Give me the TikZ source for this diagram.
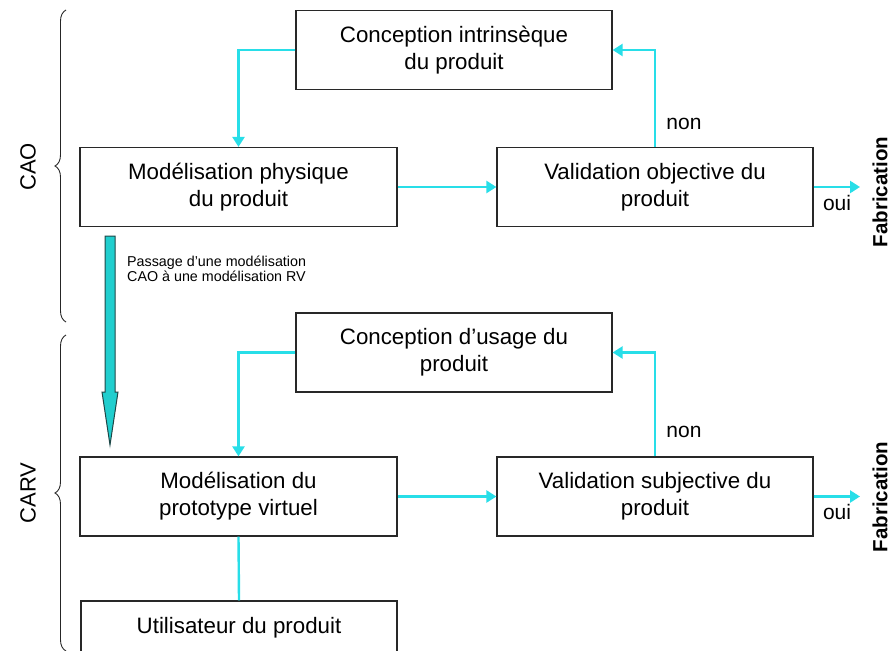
\documentclass[tikz,border=0pt]{standalone}
\usepackage{fontspec}
\setmainfont{Liberation Sans}
\usetikzlibrary{arrows.meta,decorations.pathreplacing}
\definecolor{cy}{RGB}{40,222,232}
\definecolor{tealfill}{RGB}{32,206,206}
\definecolor{tealline}{RGB}{30,70,70}
\definecolor{boxline}{RGB}{40,40,40}
\tikzset{
  box/.style={draw=boxline,line width=1.2pt,fill=white,inner sep=0pt,align=center,
    minimum width=316pt,minimum height=79pt,font=\fontsize{22.3}{27}\selectfont},
  flow/.style={draw=cy,line width=2.4pt,-{Triangle[length=10pt,width=12pt]}},
  plain/.style={draw=cy,line width=2.4pt},
  lbl/.style={font=\fontsize{21}{25}\selectfont,inner sep=0pt},
  fab/.style={font=\bfseries\fontsize{20.5}{24}\selectfont,rotate=90,inner sep=0pt},
  side/.style={font=\fontsize{22}{26}\selectfont,rotate=90,inner sep=0pt},
  passage/.style={fill=tealfill,draw=tealline,line width=1pt,line join=miter},
  bracestyle/.style={draw=black!85,line width=0.9pt,decorate,decoration={brace,amplitude=11pt}}
}
\begin{document}
\begin{tikzpicture}[x=1pt,y=-1pt]
\useasboundingbox (0,0) rectangle (890,650);
\clip (0,0) rectangle (890,650);
% boxes
\node[box] (c1) at (454,50) {Conception intrinsèque\\du produit};
\node[box,minimum width=317pt] (m1) at (238.5,187) {Modélisation physique\\du produit};
\node[box] (v1) at (655,187) {Validation objective du\\produit};
\node[box] (c2) at (454,352.5) {Conception d’usage du\\produit};
\node[box,minimum width=317pt] (m2) at (238.5,496.5) {Modélisation du\\prototype virtuel};
\node[box] (v2) at (655,496.5) {Validation subjective du\\produit};
\node[box,minimum width=316pt,minimum height=54pt] (u) at (239,628) {Utilisateur du produit};
% coordinates for free ends
\coordinate (f1) at (860,187);
\coordinate (f2) at (860,496.5);
% connectors top
\draw[flow] (c1.west) -| (m1.north);
\draw[flow] (m1.east) -- (v1.west);
\draw[flow] (v1.north) |- (c1.east);
\draw[flow] (v1.east) -- (f1);
% connectors bottom
\draw[flow] (c2.west) -| (m2.north);
\draw[flow] (m2.east) -- (v2.west);
\draw[flow] (v2.north) |- (c2.east);
\draw[flow] (v2.east) -- (f2);
\draw[plain] (m2.south) -- (u.north);
% labels
\node[lbl] (non1) at (684,124) {non};
\node[lbl] (non2) at (684,432) {non};
\node[lbl] (oui1) at (837,203) {oui};
\node[lbl] (oui2) at (837,512) {oui};
\node[fab] (fab1) at (880,192) {Fabrication};
\node[fab] (fab2) at (880,497) {Fabrication};
% passage arrow
\draw[passage] (105,236) -- (105,392) -- (102,392) -- (110,445) -- (118,392) -- (115,392) -- (115,236) -- cycle;
\node[anchor=west,align=left,inner sep=0pt,font=\fontsize{14.3}{14.5}\selectfont] (pt) at (127,269) {Passage d’une modélisation\\CAO à une modélisation RV};
% braces
\draw[bracestyle] (66,322) -- (66,10);
\draw[bracestyle] (66,651) -- (66,335);
\node[side] (cao) at (28,167) {CAO};
\node[side] (carv) at (28,493) {CARV};
\end{tikzpicture}
\end{document}
